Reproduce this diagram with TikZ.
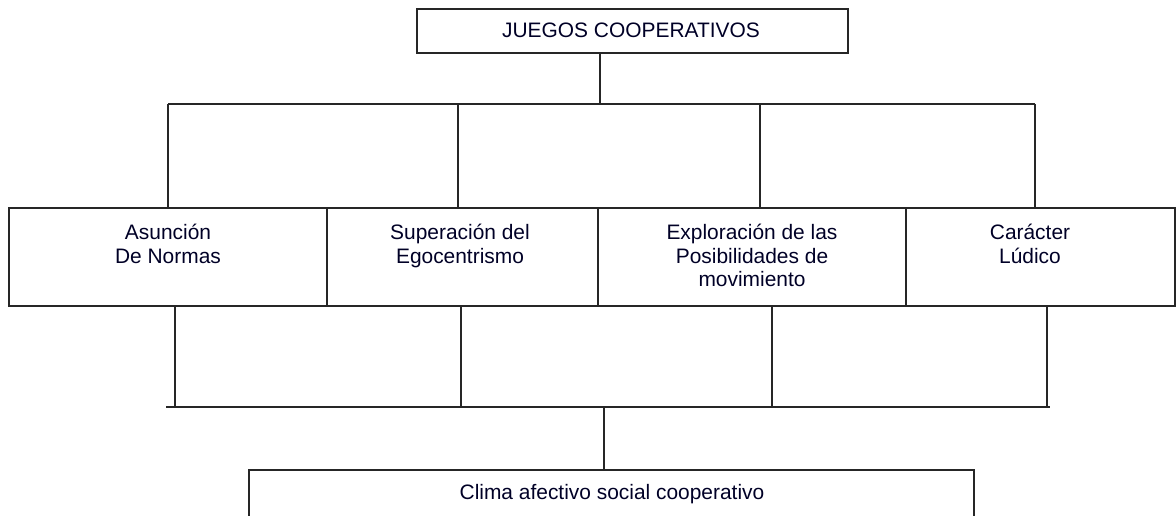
\documentclass[tikz,border=0pt]{standalone}
\usepackage{fontspec}
\setmainfont{Liberation Sans}
\begin{document}
\begin{tikzpicture}[x=1bp,y=-1bp,
  line width=1.4bp,
  box/.style={draw=black!85, line width=1.4bp, rectangle, inner sep=0pt},
  txt/.style={font=\fontsize{21}{24}\selectfont, align=center, inner sep=0pt, text=black!85!blue},
  conn/.style={draw=black!85, line width=1.4bp}]
\useasboundingbox (0,0) rectangle (1176,516);
\clip (0,0) rectangle (1176,516);
% top box
\node[box, minimum width=431bp, minimum height=44bp] (top) at (632.5,31) {};
\node[txt] (toptxt) at (631,30) {JUEGOS COOPERATIVOS};
% middle boxes
\node[box, minimum width=318bp, minimum height=98bp] (b1) at (168,257) {};
\node[box, minimum width=271bp, minimum height=98bp] (b2) at (462.5,257) {};
\node[box, minimum width=308bp, minimum height=98bp] (b3) at (752,257) {};
\node[box, minimum width=269bp, minimum height=98bp] (b4) at (1040.5,257) {};
\node[txt, anchor=north] (t1) at (168,223) {Asunción\\De Normas};
\node[txt, anchor=north] (t2) at (460,223) {Superación del\\Egocentrismo};
\node[txt, anchor=north] (t3) at (752,223) {Exploración de las\\Posibilidades de\\movimiento};
\node[txt, anchor=north] (t4) at (1030,223) {Carácter\\Lúdico};
% bottom box
\node[box, minimum width=725bp, minimum height=70bp] (bot) at (611.5,505) {};
\node[txt, anchor=north] (t5) at (612,484) {Clima afectivo social cooperativo};
% upper connectors
\coordinate (j0) at (600,104);
\coordinate (c1) at (168,104);
\coordinate (c2) at (458,104);
\coordinate (c3) at (760,104);
\coordinate (c4) at (1035,104);
\draw[conn] (top.south -| j0) -- (j0);
\draw[conn] (c1) -- (c4);
\draw[conn] (c1) -- (c1 |- b1.north);
\draw[conn] (c2) -- (c2 |- b2.north);
\draw[conn] (c3) -- (c3 |- b3.north);
\draw[conn] (c4) -- (c4 |- b4.north);
% lower connectors
\coordinate (d1) at (175,407);
\coordinate (d2) at (461,407);
\coordinate (d3) at (772,407);
\coordinate (d4) at (1047,407);
\coordinate (e0) at (604,407);
\draw[conn] (d1 |- b1.south) -- (d1);
\draw[conn] (d2 |- b2.south) -- (d2);
\draw[conn] (d3 |- b3.south) -- (d3);
\draw[conn] (d4 |- b4.south) -- (d4);
\draw[conn] ([xshift=-9bp]d1) -- ([xshift=3bp]d4);
\draw[conn] (e0) -- (e0 |- bot.north);
\end{tikzpicture}
\end{document}
